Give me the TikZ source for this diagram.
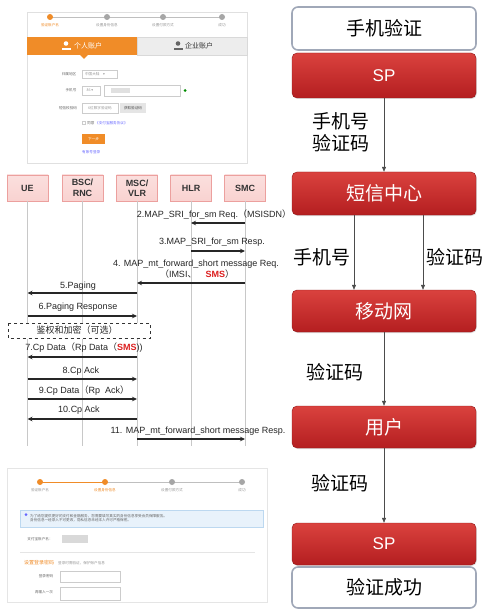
\documentclass[tikz,border=0pt]{standalone}
\usepackage{fontspec}
\setmainfont{Liberation Sans}
\newfontfamily\cjk{Noto Sans CJK SC}
\newfontfamily\dejavu{DejaVu Sans}
\usetikzlibrary{arrows.meta,shadows}
\definecolor{rtop}{RGB}{218,66,62}
\definecolor{rbot}{RGB}{180,30,32}
\definecolor{wborder}{RGB}{160,168,184}
\definecolor{pinkf}{RGB}{249,210,208}
\definecolor{pinkd}{RGB}{236,160,158}
\definecolor{lifec}{RGB}{200,200,200}
\definecolor{orng}{RGB}{240,140,40}
\definecolor{smsred}{RGB}{220,30,30}
\definecolor{grayt}{RGB}{150,150,150}
\definecolor{infob}{RGB}{232,242,251}
\definecolor{infod}{RGB}{188,216,240}
\begin{document}
\begin{tikzpicture}[x=1pt,y=-1pt,
  rbox/.style={rounded corners=5pt, minimum width=184pt, minimum height=#1, top color=rtop, bottom color=rbot, draw=rbot!80!black, line width=0.4pt, text=white, font=\cjk\fontsize{19}{19}\selectfont, drop shadow={opacity=0.25,shadow xshift=0.8pt,shadow yshift=-1pt}},
  wbox/.style={rounded corners=6pt, minimum width=184pt, minimum height=#1, fill=white, draw=wborder, line width=1.6pt, text=black, font=\cjk\fontsize{19}{19}\selectfont},
  flow/.style={draw=black!70, line width=0.6pt, -{Triangle[length=5pt,width=4pt]}},
  flab/.style={font=\cjk\fontsize{19}{22}\selectfont, text=black, align=left},
  hbox/.style={minimum width=41pt, minimum height=26pt, top color=pinkf!70, bottom color=pinkf, draw=pinkd, line width=0.5pt, font=\bfseries\fontsize{9}{10.5}\selectfont, text=black!80, align=center, inner sep=1pt},
  life/.style={draw=lifec, line width=0.6pt},
  msg/.style={draw=black!85, line width=1.1pt, -{Stealth[length=5pt,width=4.5pt]}},
  mlab/.style={font=\fontsize{9}{10}\selectfont, text=black!85, inner sep=0pt},
  tiny/.style={font=\cjk\fontsize{3.6}{4}\selectfont, text=grayt, inner sep=0pt},
  inp/.style={draw=black!20, fill=white, line width=0.4pt}
]
\useasboundingbox (0,0) rectangle (498,612);
\fill[white] (0,0) rectangle (498,612);

%================ right column =================
\node[wbox=43pt] (sj) at (384,28.5) {手机验证};
\node[rbox=45pt] (sp1) at (384,75.5) {\fontspec{Liberation Sans}\fontsize{17}{17}\selectfont SP};
\node[rbox=43pt] (dx) at (384,193.5) {短信中心};
\node[rbox=42pt] (ydw) at (384,311) {移动网};
\node[rbox=42pt] (yh) at (384,427) {用户};
\node[rbox=42pt] (sp2) at (384,544) {\fontspec{Liberation Sans}\fontsize{17}{17}\selectfont SP};
\node[wbox=41pt] (cg) at (384,587.5) {验证成功};

\draw[flow] (sp1.south) -- (dx.north);
\node[flab] (l1) at (341,132) {手机号\\验证码};
\draw[flow] ([xshift=-30pt]dx.south) -- ([xshift=-30pt]ydw.north);
\draw[flow] ([xshift=39pt]dx.south) -- ([xshift=39pt]ydw.north);
\node[flab] (l2) at (322,257) {手机号};
\node[flab] (l3) at (455,257) {验证码};
\draw[flow] (ydw.south) -- (yh.north);
\node[flab] (l4) at (335,372) {验证码};
\draw[flow] (yh.south) -- (sp2.north);
\node[flab] (l5) at (340,483) {验证码};

%================ sequence diagram =================
\node[hbox] (ue) at (27.5,188) {UE};
\node[hbox] (bsc) at (82.5,188) {BSC/\\RNC};
\node[hbox] (msc) at (137,188) {MSC/\\VLR};
\node[hbox] (hlr) at (191,188) {HLR};
\node[hbox] (smc) at (245,188) {SMC};
\foreach \n in {ue,bsc,msc,hlr,smc}{
  \coordinate (\n end) at (\n.center |- 0,446);
  \draw[life] (\n.south) -- (\n end);
}

\node[mlab] (m2) at (214,215) {2.MAP\_SRI\_for\_sm Req.{\cjk（}MSISDN{\cjk）}};
\draw[msg] (smc.center |- 0,223) -- (hlr.center |- 0,223);
\node[mlab] (m3) at (212,242) {3.MAP\_SRI\_for\_sm Resp.};
\draw[msg] (hlr.center |- 0,251) -- (smc.center |- 0,251);
\node[mlab] (m4a) at (196,264) {4. MAP\_mt\_forward\_short message Req.};
\node[mlab] (m4b) at (197,274.5) {{\cjk（}IMSI{\cjk、}\quad\textcolor{smsred}{\bfseries SMS}{\cjk）}};
\draw[msg] (smc.center |- 0,283) -- (msc.center |- 0,283);
\node[mlab] (m5) at (78,286) {5.Paging};
\draw[msg] (msc.center |- 0,293) -- (ue.center |- 0,293);
\node[mlab] (m6) at (78,307) {6.Paging Response};
\draw[msg] (ue.center |- 0,316) -- (msc.center |- 0,316);

\draw[dashed, line width=0.9pt, draw=black!80, fill=white] (8,323) rectangle (150,338.5);
\node[mlab, font=\cjk\fontsize{9}{10}\selectfont] (auth) at (77,330.5) {鉴权和加密（可选）};

\node[mlab] (m7) at (84,348) {7.Cp Data{\cjk（}Rp Data{\cjk（}\textcolor{smsred}{\bfseries SMS}))};
\draw[msg] (msc.center |- 0,357) -- (ue.center |- 0,357);
\node[mlab] (m8) at (81,371) {8.Cp Ack};
\draw[msg] (ue.center |- 0,379) -- (msc.center |- 0,379);
\node[mlab] (m9) at (84,391) {9.Cp Data{\cjk（}Rp\ \ Ack{\cjk）}};
\draw[msg] (ue.center |- 0,399) -- (msc.center |- 0,399);
\node[mlab] (m10) at (79,410) {10.Cp Ack};
\draw[msg] (msc.center |- 0,419) -- (ue.center |- 0,419);
\node[mlab] (m11) at (198,431) {11. MAP\_mt\_forward\_short message Resp.};
\draw[msg] (msc.center |- 0,439) -- (smc.center |- 0,439);

%================ top screenshot =================
\draw[draw=black!12, fill=white, line width=0.5pt] (27,12) rectangle (247,163);
\draw[black!25, line width=0.6pt] (50,17) -- (222,17);
\fill[orng] (50,17) circle (3pt);
\foreach \x in {107,163,222} \fill[black!35] (\x,17) circle (3pt);
\node[tiny, text=orng] (t1) at (50,25) {验证账户名};
\node[tiny] (t2) at (107,25) {设置身份信息};
\node[tiny] (t3) at (163,25) {设置付款方式};
\node[tiny] (t4) at (222,25) {成功};
\fill[orng] (27,37) rectangle (137,55);
\fill[orng] (80,55) -- (84,59) -- (88,55) -- cycle;
\fill[black!7] (137,37) rectangle (247,55);
\draw[black!15, line width=0.4pt] (137,37) rectangle (247,55);
\fill[white] (66,43.5) circle (2.3pt);
\fill[white] (61.5,50.5) rectangle (70.5,48) ;
\node[font=\cjk\fontsize{7}{8}\selectfont, text=white, inner sep=0pt] (tab1) at (88,46) {个人账户};
\fill[black!60] (178,43.5) circle (2.3pt);
\fill[black!60] (173.5,50.5) rectangle (182.5,48);
\node[font=\cjk\fontsize{7}{8}\selectfont, text=black!80, inner sep=0pt] (tab2) at (199,46) {企业账户};
\node[tiny, text=black!60] (f1) at (69,74) {归属地区};
\draw[inp] (82,70) rectangle (117,78);
\node[tiny] (f1v) at (95,74) {中国大陆\quad{\dejavu ▾}};
\node[tiny, text=black!60] (f2) at (71,90.5) {手机号};
\draw[inp] (82,86) rectangle (100,95);
\node[tiny] (f2v) at (90,90.5) {86\ {\dejavu ▾}};
\draw[inp] (104,85) rectangle (180,96);
\fill[black!12] (111,88) rectangle (130,93);
\fill[green!55!black] (185,90.5) circle (1.5pt);
\node[tiny, text=black!60] (f3) at (68,108) {短信校验码};
\draw[inp] (82,103) rectangle (118,113);
\node[tiny] (f3v) at (100,108) {6位数字验证码};
\fill[black!10] (120,103) rectangle (146,113);
\node[tiny, text=black!70] (f3b) at (133,108) {获取验证码};
\draw[inp] (82,121) rectangle (85,124.5);
\node[tiny, text=black!60, anchor=west] (f4) at (87,123) {同意 \textcolor{blue!60}{《支付宝服务协议》}};
\fill[orng] (82,134) rectangle (105,144);
\node[tiny, text=white] (btn) at (93.5,139) {下一步};
\node[tiny, text=blue!60, anchor=west] (lnk) at (82,152) {有账号登录};

%================ bottom screenshot =================
\draw[draw=black!10, fill=white, line width=0.5pt] (7,468) rectangle (267,602);
\draw[black!25, line width=0.6pt] (40,482) -- (242,482);
\draw[orng, line width=0.6pt] (40,482) -- (105,482);
\fill[orng] (40,482) circle (3pt);
\fill[orng] (105,482) circle (3pt);
\fill[black!35] (172,482) circle (3pt);
\fill[black!35] (242,482) circle (3pt);
\node[tiny] (b1) at (40,490) {验证账户名};
\node[tiny, text=orng] (b2) at (105,490) {设置身份信息};
\node[tiny] (b3) at (172,490) {设置付款方式};
\node[tiny] (b4) at (242,490) {成功};
\draw[fill=infob, draw=infod, line width=0.4pt] (20,510) rectangle (263,527);
\fill[blue!60] (26,514.5) circle (1.5pt);
\node[tiny, text=black!60, anchor=west, align=left] (info) at (30,518) {为了给您提供更好的支付和金融服务，您需要填写真实的身份信息享受会员保障服务。\\身份信息一经录入不可更改，隐私信息未经本人许可严格保密。};
\node[tiny, text=black!60] (b5) at (40,539) {支付宝账户名：};
\fill[black!15] (62,535) rectangle (88,543);
\draw[black!10, line width=0.4pt] (20,552) -- (255,552);
\node[font=\cjk\fontsize{5}{6}\selectfont, text=orng, inner sep=0pt] (b6) at (39,563) {设置登录密码};
\node[tiny, anchor=west] (b6b) at (58,563) {登录时需验证，保护账户信息};
\node[tiny, text=black!60] (b7) at (46,576) {登录密码};
\draw[inp] (60,571) rectangle (120,582);
\node[tiny, text=black!60] (b8) at (44,592.5) {再输入一次};
\draw[inp] (60,587) rectangle (120,600);
\end{tikzpicture}
\end{document}
